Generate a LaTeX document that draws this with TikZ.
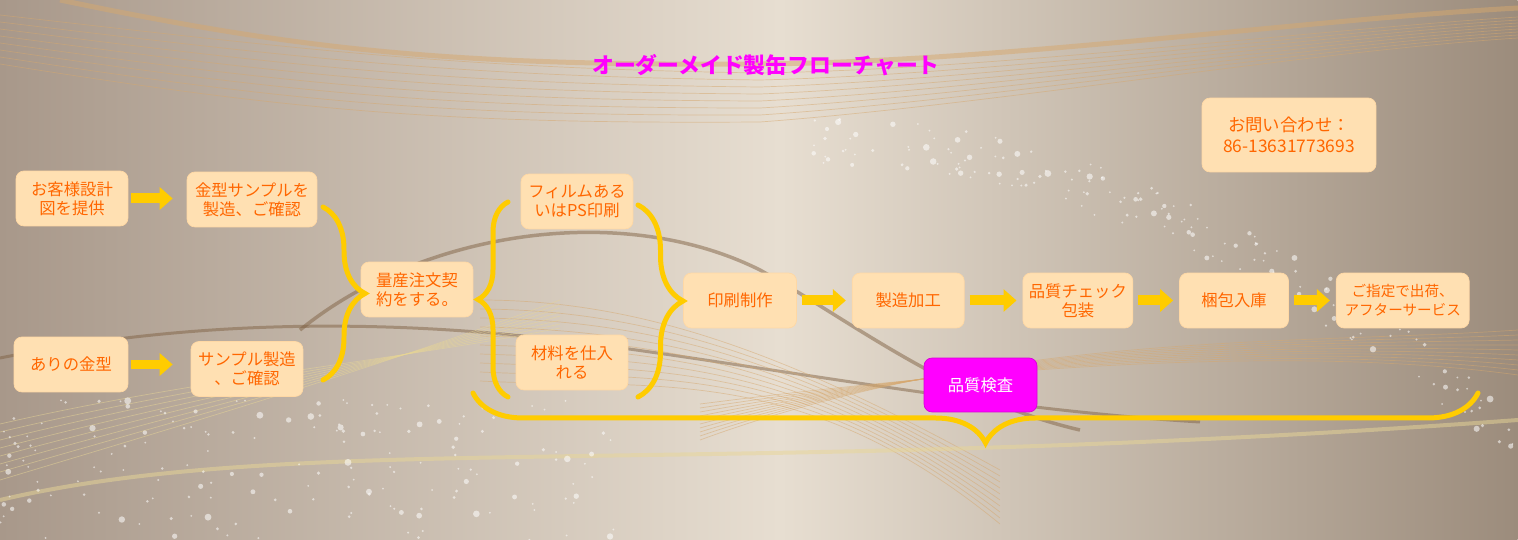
\documentclass[tikz,border=0pt]{standalone}
\usepackage{fontspec}
\setmainfont{Noto Sans CJK JP}
\usetikzlibrary{arrows.meta,positioning,decorations.pathreplacing}

\definecolor{bgleft}{RGB}{168,152,138}
\definecolor{bgmid}{RGB}{231,222,209}
\definecolor{bgright}{RGB}{156,140,124}
\definecolor{boxfill}{RGB}{255,224,178}
\definecolor{boxtext}{RGB}{255,102,0}
\definecolor{flowyellow}{RGB}{255,204,0}
\definecolor{titlemag}{RGB}{255,0,255}
\definecolor{wavegold}{RGB}{214,168,110}
\definecolor{wavebrown}{RGB}{128,98,68}
\definecolor{wavepale}{RGB}{232,214,150}

\begin{document}
\begin{tikzpicture}[
  x=0.02cm, y=-0.02cm,
  box/.style={fill=boxfill, draw=boxfill!92!orange, rounded corners=0.16cm, minimum height=11mm,
    minimum width=22.4mm, inner sep=2pt, align=center, text=boxtext,
    font=\fontsize{9.3}{10.8}\selectfont},
  qcbox/.style={box, fill=titlemag, draw=titlemag!85!black, text=white, minimum height=10.8mm},
  arr/.style={-{Triangle[length=0.26cm,width=0.44cm]}, line width=0.2cm, draw=flowyellow,
    shorten <=0.1cm, shorten >=0.12cm},
  curly/.style={decorate, decoration={brace, amplitude=#1}, draw=flowyellow, line width=0.1cm,
    line cap=round},
  wave/.style={draw=#1, opacity=.5}
]
  % background
  \shade[left color=bgleft, right color=bgmid] (0cm,0cm) rectangle (15.6cm,-10.8cm);
  \shade[left color=bgmid, right color=bgright] (15.6cm,0cm) rectangle (30.36cm,-10.8cm);
  \useasboundingbox (0,0) rectangle (1518,540);

  % waves
  \draw[wave=wavegold, line width=0.1cm] (60,0) .. controls (300,50) and (450,66) .. (760,64)
    .. controls (1000,62) and (1300,20) .. (1518,8);
  \foreach \d in {1,...,8}
    \draw[wave=wavegold, thin] (0,8+\d*7) .. controls (300,40+\d*9) and (450,60+\d*8) .. (760,66+\d*7)
      .. controls (1000,64+\d*5) and (1300,28+\d*3) .. (1518,14+\d*3);
  \draw[wave=wavebrown, line width=0.07cm] (300,330) .. controls (420,232) and (620,200) .. (760,270)
    .. controls (850,320) and (950,400) .. (1080,430);
  \draw[wave=wavebrown, line width=0.06cm] (0,358) .. controls (200,318) and (400,318) .. (600,345)
    .. controls (800,372) and (1000,410) .. (1200,422);
  \foreach \d in {0,...,9}
    \draw[wave=wavegold, thin] (480,300+\d*9) .. controls (650,300+\d*10) and (800,360) .. (1000,470+\d*6);
  \foreach \d in {0,...,9}
    \draw[wave=wavegold, thin] (700,440-\d*4) .. controls (1000,330+\d*4) and (1300,345) .. (1518,330+\d*5);
  \foreach \d in {0,...,7}
    \draw[wave=wavepale, thin] (0,480-\d*8) .. controls (200,420-\d*6) and (400,360) .. (560,300+\d*4);
  \draw[wave=wavepale, line width=0.08cm] (0,500) .. controls (300,430) and (700,480) .. (1518,420);

  % sparkles
  \pgfmathsetseed{11}
  \foreach \i in {1,...,170} {
    \pgfmathsetmacro{\sx}{rnd*620}
    \pgfmathsetmacro{\sy}{400+rnd*140}
    \pgfmathsetmacro{\sr}{0.02+0.05*rnd^3}
    \fill[white, opacity=.55] (\sx,\sy) circle (\sr cm);
  }
  \foreach \i in {1,...,170} {
    \pgfmathsetmacro{\sx}{800+rnd*718}
    \pgfmathsetmacro{\sy}{140+((\sx-800)/718)^2*300+rnd*50-25}
    \pgfmathsetmacro{\sr}{0.02+0.05*rnd^3}
    \fill[white, opacity=.55] (\sx,\sy) circle (\sr cm);
  }

  % title and contact
  \node[text=titlemag, font=\fontsize{12.4}{14}\selectfont\bfseries] (title) at (766,65)
    {オーダーメイド製缶フローチャート};
  \node[box, minimum width=34.8mm, minimum height=14.8mm, font=\fontsize{9.9}{12.3}\selectfont]
    (contact) at (1289,135) {お問い合わせ：\\86-13631773693};

  % boxes
  \node[box] (cust) at (72,198.5) {お客様設計\\図を提供};
  \node[box, minimum width=26mm] (mold1) at (252,199.5) {金型サンプルを\\製造、ご確認};
  \node[box, minimum width=22.8mm] (own) at (71,364.5) {ありの金型};
  \node[box] (mold2) at (247,369) {サンプル製造\\、ご確認};
  \node[box] (order) at (417,289.5) {量産注文契\\約をする。};
  \node[box] (film) at (577,201.5) {フィルムある\\いはPS印刷};
  \node[box] (mat) at (572,362.5) {材料を仕入\\れる};
  \node[box, minimum width=22.6mm] (print) at (740,300.5) {印刷制作};
  \node[box, right=11mm of print] (make) {製造加工};
  \node[box, minimum width=22mm, right=11.6mm of make] (check) {品質チェック\\包装};
  \node[box, minimum width=21.8mm, right=9.2mm of check] (pack) {梱包入庫};
  \node[box, minimum width=26.6mm, font=\fontsize{8.3}{10.8}\selectfont, right=9.4mm of pack]
    (ship) {ご指定で出荷、\\アフターサービス};

  % arrows
  \draw[arr, shorten <=0.06cm, shorten >=0.28cm] (cust.east) -- (cust.east -| mold1.west);
  \draw[arr, shorten <=0.06cm, shorten >=0.36cm] (own.east) -- (own.east -| mold2.west);
  \draw[arr] (print) -- (make);
  \draw[arr] (make) -- (check);
  \draw[arr] (check) -- (pack);
  \draw[arr] (pack) -- (ship);

  % braces
  \coordinate (b1top) at (323,207);
  \coordinate (b1bot) at (323,380);
  \coordinate (b2top) at (508,202);
  \coordinate (b2bot) at (508,397);
  \coordinate (b3top) at (638,205);
  \coordinate (b3bot) at (638,397);
  \coordinate (qcleft) at (473,393);
  \coordinate (qcright) at (1478,393);
  \draw[curly=0.84cm] (b1top) -- (b1bot);
  \draw[curly=0.6cm] (b2bot) -- (b2top);
  \draw[curly=0.9cm] (b3top) -- (b3bot);
  \draw[curly=1.0cm, decoration={aspect=0.49}] (qcright) -- (qcleft);

  \node[qcbox, minimum width=22.6mm] (qc) at (980.5,385) {品質検査};
\end{tikzpicture}
\end{document}
